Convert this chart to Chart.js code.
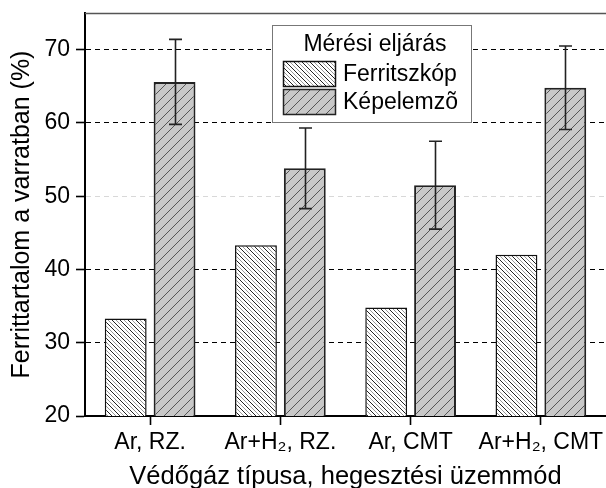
<!DOCTYPE html>
<html><head><meta charset="utf-8">
<script src="https://cdn.jsdelivr.net/npm/chart.js@4/dist/chart.umd.min.js"></script>
<style>html,body{margin:0;padding:0;background:#fff;}canvas{display:block;}</style>
</head><body>
<canvas id="c" width="606" height="488"></canvas>
<script>
const categories = ['Ar, RZ.', 'Ar+H\u2082, RZ.', 'Ar, CMT', 'Ar+H\u2082, CMT'];
const seriesNames = ['Ferritszkóp', 'Képelemzõ'];
const ferritszkop = [33.3, 43.3, 34.8, 42.0];
const kepelemzo = [65.6, 53.8, 51.5, 64.8];
const kepelemzoErr = [5.8, 5.5, 6.0, 5.7];
const yTickValues = [20, 30, 40, 50, 60, 70];
const yMin = 20, yMax = 75;
const legendTitle = 'Mérési eljárás';
const xTitle = 'Védőgáz típusa, hegesztési üzemmód';
const yTitle = 'Ferrittartalom a varratban (%)';

const FONT = '"Liberation Sans", Arial, sans-serif';

function hatchPattern(bg, s, families) {
  const c = document.createElement('canvas');
  c.width = s; c.height = s;
  const g = c.getContext('2d');
  g.fillStyle = bg; g.fillRect(0, 0, s, s);
  families.forEach(f => {
    g.strokeStyle = f.color; g.lineWidth = f.lw;
    g.beginPath();
    for (let k = -s; k <= s; k += s) {
      const o = f.offset + k;
      if (f.dir === 'back') {
        g.moveTo(o - 2, -2); g.lineTo(o + s + 2, s + 2);
      } else {
        g.moveTo(o + 2, -2); g.lineTo(o - s - 2, s + 2);
      }
    }
    g.stroke();
  });
  return g.createPattern(c, 'repeat');
}

const ctx = document.getElementById('c').getContext('2d');
const patFerrit = hatchPattern('#ffffff', 8, [
  {dir: 'back', offset: 0, color: '#222', lw: 1},
  {dir: 'back', offset: 4, color: '#999', lw: 1}
]);
const patKep = hatchPattern('#c8c8c8', 10, [
  {dir: 'fwd', offset: 10, color: '#555', lw: 1}
]);

const topBorderPlugin = {
  id: 'topBorder',
  beforeDatasetsDraw(chart) {
    const a = chart.chartArea, c = chart.ctx;
    c.save();
    c.strokeStyle = '#555'; c.lineWidth = 1.5;
    c.beginPath(); c.moveTo(a.left, a.top + 0.5); c.lineTo(chart.width, a.top + 0.5); c.stroke();
    c.restore();
  }
};

const errorBarPlugin = {
  id: 'errorBars',
  afterDatasetsDraw(chart) {
    const c = chart.ctx, ys = chart.scales.y;
    const meta = chart.getDatasetMeta(1);
    c.save();
    c.strokeStyle = '#222'; c.lineWidth = 1.6;
    meta.data.forEach((bar, i) => {
      const v = kepelemzo[i], e = kepelemzoErr[i];
      const yt = ys.getPixelForValue(v + e), yb = ys.getPixelForValue(v - e);
      const x = Math.round(bar.x) + 0.5, cw = 6.5;
      c.beginPath();
      c.moveTo(x, yt); c.lineTo(x, yb);
      c.moveTo(x - cw, yt); c.lineTo(x + cw, yt);
      c.moveTo(x - cw, yb); c.lineTo(x + cw, yb);
      c.stroke();
    });
    c.restore();
  }
};

const legendBoxPlugin = {
  id: 'legendBox',
  afterDraw(chart) {
    const c = chart.ctx;
    c.save();
    c.fillStyle = '#fff'; c.strokeStyle = '#777'; c.lineWidth = 1;
    c.fillRect(272, 25, 199, 97);
    c.strokeRect(272.5, 25.5, 199, 97);
    c.fillStyle = '#000';
    c.font = '23px ' + FONT;
    c.textBaseline = 'middle';
    c.textAlign = 'center';
    c.fillText(legendTitle, 375, 45);
    c.textAlign = 'left';
    const pats = [patFerrit, patKep];
    const strokes = ['#111', '#222'];
    const ys = [61, 89];
    seriesNames.forEach((n, i) => {
      c.fillStyle = pats[i];
      c.fillRect(283, ys[i], 53, 26);
      c.strokeStyle = strokes[i]; c.lineWidth = 1.5;
      c.strokeRect(283.5, ys[i] + 0.5, 52, 25);
      c.fillStyle = '#000';
      c.fillText(n, 343, ys[i] + 13.5);
    });
    c.restore();
  }
};

new Chart(ctx, {
  type: 'bar',
  data: {
    labels: categories,
    datasets: [
      {label: seriesNames[0], data: ferritszkop, backgroundColor: patFerrit, borderColor: '#111', borderWidth: 1.5,
       barPercentage: 0.857, categoryPercentage: 0.75},
      {label: seriesNames[1], data: kepelemzo, backgroundColor: patKep, borderColor: '#222', borderWidth: 2,
       barPercentage: 0.857, categoryPercentage: 0.75}
    ]
  },
  options: {
    responsive: false, animation: false, devicePixelRatio: 1,
    layout: {padding: {top: 13, right: 0, left: 0, bottom: 0}},
    plugins: {legend: {display: false}, tooltip: {enabled: false}},
    scales: {
      x: {
        afterFit(s) { s.height = 72; s.paddingLeft = 0; s.paddingRight = 0; },
        grid: {offset: false, drawOnChartArea: false, drawTicks: true, tickLength: 9, tickColor: '#000', tickWidth: 1.6},
        border: {display: true, color: '#000', width: 2},
        ticks: {color: '#000', font: {family: FONT, size: 23}, padding: 4, maxRotation: 0, autoSkip: false},
        title: {display: true, text: xTitle, color: '#000', font: {family: FONT, size: 25.5, lineHeight: 0.86}, padding: {top: 0, bottom: 0}}
      },
      y: {
        min: yMin, max: yMax,
        afterFit(s) { s.width = 85; s.paddingTop = 0; s.paddingBottom = 0; },
        afterBuildTicks(s) { s.ticks = yTickValues.map(v => ({value: v})); },
        grid: {
          color: c => c.tick && c.tick.value === 20 ? 'rgba(0,0,0,0)' : (c.tick && c.tick.value === 50 ? '#d8d8d8' : '#000'),
          lineWidth: 1, tickBorderDash: [], tickLength: 9, tickColor: '#000', tickWidth: 1.6
        },
        border: {display: true, color: '#000', width: 2, dash: [5, 4]},
        ticks: {color: '#000', font: {family: FONT, size: 23}, padding: 6},
        title: {display: true, text: yTitle, color: '#000', font: {family: FONT, size: 25, lineHeight: 1}, padding: {top: 10, bottom: 0}}
      }
    }
  },
  plugins: [topBorderPlugin, errorBarPlugin, legendBoxPlugin]
});
</script>
</body></html>
